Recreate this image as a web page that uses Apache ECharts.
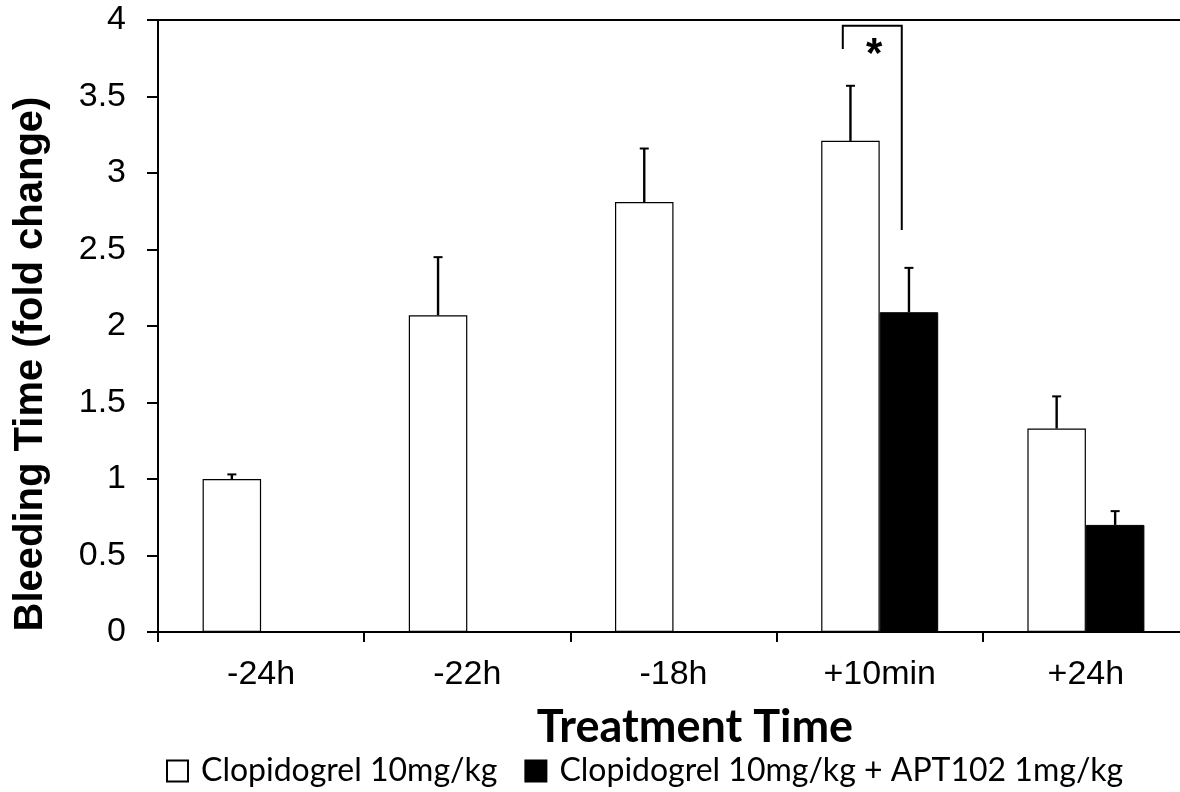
<!DOCTYPE html>
<html>
<head>
<meta charset="utf-8">
<script src="https://cdn.jsdelivr.net/npm/echarts@6/dist/echarts.min.js"></script>
<style>
html,body{margin:0;padding:0;background:#fff;}
#chart{width:1180px;height:792px;}
</style>
</head>
<body>
<div id="chart"></div>
<script>
// ---- data ----
const categories = ['-24h', '-22h', '-18h', '+10min', '+24h'];
const clopidogrel = [1.00, 2.07, 2.81, 3.21, 1.33];
const clopidogrelErr = [0.03, 0.38, 0.35, 0.36, 0.21];
const combo = [null, null, null, 2.09, 0.70];
const comboErr = [null, null, null, 0.29, 0.09];
const seriesNames = ['Clopidogrel 10mg/kg', 'Clopidogrel 10mg/kg + APT102 1mg/kg'];
// significance bracket: [category index, top value, left end value, right end value]
const bracket = [[3, 3.963, 3.81, 2.627]];
const sigLabel = '*';

const BAR_W = 58.5;

const chart = echarts.init(document.getElementById('chart'), null, {renderer: 'canvas'});

function errData(vals, errs) {
  const out = [];
  vals.forEach((v, i) => { if (v != null && errs[i] != null) out.push([i, v, errs[i]]); });
  return out;
}

function errRenderer(offsetSign) {
  return function (params, api) {
    const idx = api.value(0), v = api.value(1), e = api.value(2);
    const base = api.coord([idx, v]);
    const top = api.coord([idx, v + e]);
    const x = base[0] + offsetSign * BAR_W / 2;
    return {
      type: 'group',
      children: [
        {type: 'line', shape: {x1: x, y1: base[1], x2: x, y2: top[1]}, style: {stroke: '#000', lineWidth: 2.4}},
        {type: 'line', shape: {x1: x - 4.5, y1: top[1], x2: x + 4.5, y2: top[1]}, style: {stroke: '#000', lineWidth: 2}}
      ]
    };
  };
}

const option = {
  animation: false,
  backgroundColor: '#fff',
  grid: {left: 158, top: 20, width: 1031, height: 612, containLabel: false, outerBoundsMode: 'none'},
  xAxis: [{
    type: 'category',
    data: categories,
    axisLine: {lineStyle: {color: '#000', width: 2}},
    axisTick: {show: true, length: 10, lineStyle: {color: '#000', width: 2}},
    axisLabel: {color: '#000', fontSize: 34, fontFamily: 'Liberation Sans, Arial, sans-serif', margin: 26},
    splitLine: {show: false}
  }, {
    type: 'category',
    position: 'top',
    data: categories,
    axisLine: {show: true, lineStyle: {color: '#000', width: 2}},
    axisTick: {show: false},
    axisLabel: {show: false}
  }],
  yAxis: {
    type: 'value',
    min: 0, max: 4, interval: 0.5,
    axisLine: {show: true, lineStyle: {color: '#000', width: 2}},
    axisTick: {show: true, length: 11, lineStyle: {color: '#000', width: 2}},
    axisLabel: {color: '#000', fontSize: 34, fontFamily: 'Liberation Sans, Arial, sans-serif', margin: 32},
    splitLine: {show: false}
  },
  legend: {
    left: 166, top: 755,
    padding: 0,
    itemWidth: 21, itemHeight: 21, itemGap: 27,
    icon: 'rect',
    data: seriesNames,
    textStyle: {color: '#000', fontSize: 32, fontFamily: 'Lato, Open Sans, sans-serif', padding: [0, 0, 0, 8]}
  },
  graphic: [
    {
      type: 'text',
      x: 31, y: 364,
      rotation: Math.PI / 2,
      style: {
        text: 'Bleeding Time (fold change)',
        font: 'bold 40px "Liberation Sans", Arial, sans-serif',
        fill: '#000', align: 'center', verticalAlign: 'middle'
      }
    },
    {
      type: 'text',
      x: 695, y: 727,
      style: {
        text: 'Treatment Time',
        font: 'bold 45px Lato, "Open Sans", sans-serif',
        fill: '#000', align: 'center', verticalAlign: 'middle'
      }
    }
  ],
  series: [
    {
      name: seriesNames[0], type: 'bar', data: clopidogrel,
      barWidth: BAR_W, barGap: '0%',
      itemStyle: {color: '#fff', borderColor: '#000', borderWidth: 1.2}
    },
    {
      name: seriesNames[1], type: 'bar', data: combo,
      barWidth: BAR_W, barGap: '0%',
      itemStyle: {color: '#000', borderColor: '#000', borderWidth: 1}
    },
    {
      type: 'custom', name: 'err0', data: errData(clopidogrel, clopidogrelErr),
      renderItem: errRenderer(-1), z: 5, silent: true
    },
    {
      type: 'custom', name: 'err1', data: errData(combo, comboErr),
      renderItem: errRenderer(1), z: 5, silent: true
    },
    {
      type: 'custom', name: 'sig', data: bracket, z: 6, silent: true,
      renderItem: function (params, api) {
        const idx = api.value(0);
        const cw = api.size([1, 0])[0];
        const cx = api.coord([idx, 0])[0];
        const yTop = api.coord([idx, api.value(1)])[1];
        const yL = api.coord([idx, api.value(2)])[1];
        const yR = api.coord([idx, api.value(3)])[1];
        const xL = cx - 0.179 * cw;
        const xR = cx + 0.107 * cw;
        return {
          type: 'group',
          children: [
            {type: 'polyline', shape: {points: [[xL, yL], [xL, yTop], [xR, yTop], [xR, yR]]},
             style: {stroke: '#000', lineWidth: 2, fill: null}},
            {type: 'text', x: cx - 0.027 * cw, y: yTop + 30,
             style: {text: sigLabel, font: 'bold 42px "Liberation Sans", Arial, sans-serif',
                     fill: '#000', align: 'center', verticalAlign: 'middle'}}
          ]
        };
      }
    }
  ]
};
chart.setOption(option);
</script>
</body>
</html>
